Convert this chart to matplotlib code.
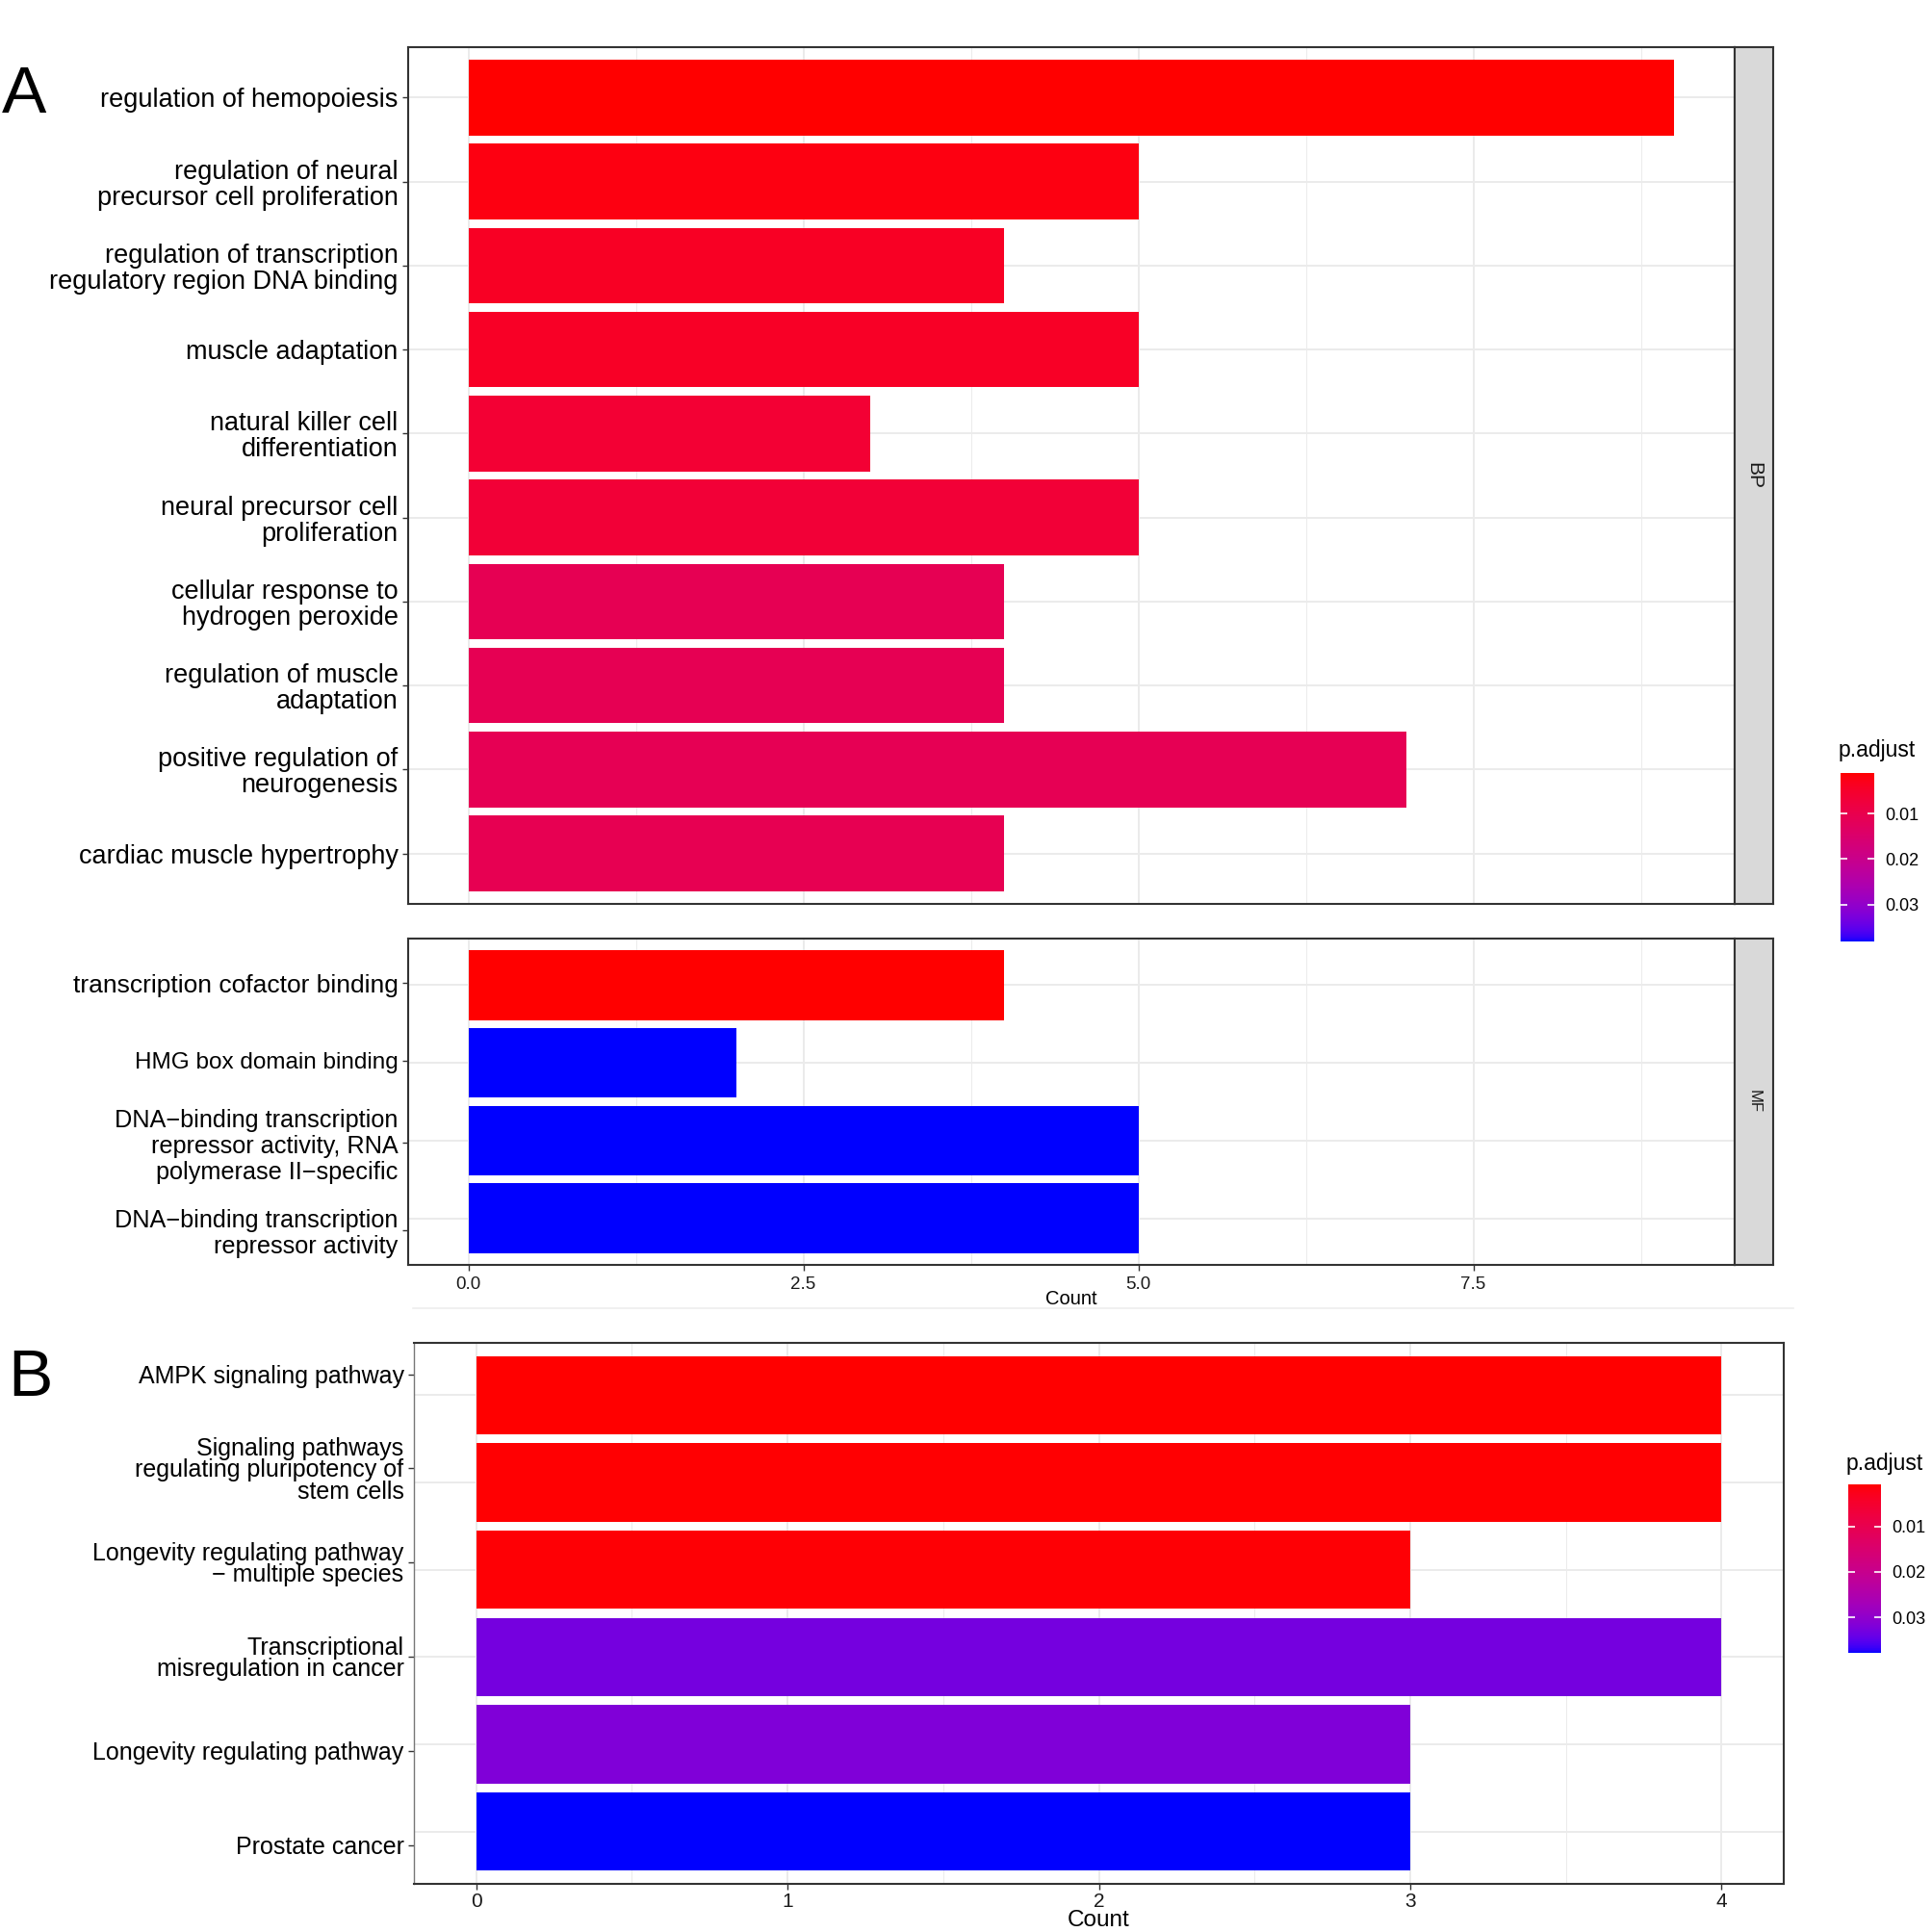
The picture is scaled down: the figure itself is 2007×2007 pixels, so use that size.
import numpy as np
import matplotlib
matplotlib.use("Agg")
import matplotlib.pyplot as plt
from matplotlib.colors import ListedColormap, Normalize
from matplotlib.lines import Line2D
import matplotlib.cm as cm

plt.rcParams['font.family'] = ['Liberation Sans', 'DejaVu Sans']

# ---------------- data ----------------
bp_terms = [
    "regulation of hemopoiesis",
    "regulation of neural\nprecursor cell proliferation",
    "regulation of transcription\nregulatory region DNA binding",
    "muscle adaptation",
    "natural killer cell\ndifferentiation",
    "neural precursor cell\nproliferation",
    "cellular response to\nhydrogen peroxide",
    "regulation of muscle\nadaptation",
    "positive regulation of\nneurogenesis",
    "cardiac muscle hypertrophy",
]
bp_counts = [9, 5, 4, 5, 3, 5, 4, 4, 7, 4]
bp_padj = [0.0012, 0.0022, 0.0040, 0.0043, 0.0062, 0.0066, 0.0110, 0.0110, 0.0112, 0.0108]

mf_terms = [
    "transcription cofactor binding",
    "HMG box domain binding",
    "DNA\u2212binding transcription\nrepressor activity, RNA\npolymerase II\u2212specific",
    "DNA\u2212binding transcription\nrepressor activity",
]
mf_counts = [4, 2, 5, 5]
mf_padj = [0.0011, 0.0381, 0.0380, 0.0380]

kegg_terms = [
    "AMPK signaling pathway",
    "Signaling pathways\nregulating pluripotency of\nstem cells",
    "Longevity regulating pathway\n\u2212 multiple species",
    "Transcriptional\nmisregulation in cancer",
    "Longevity regulating pathway",
    "Prostate cancer",
]
kegg_counts = [4, 4, 3, 4, 3, 3]
kegg_padj = [0.0008, 0.0010, 0.0012, 0.0330, 0.0318, 0.0378]

cbar_ticks = [0.01, 0.02, 0.03]
a_xticks = [0.0, 2.5, 5.0, 7.5]
b_xticks = [0, 1, 2, 3, 4]

# ---------------- Lab gradient (like ggplot2 red -> blue) ----------------
M = np.array([[0.4124564, 0.3575761, 0.1804375],
              [0.2126729, 0.7151522, 0.0721750],
              [0.0193339, 0.1191920, 0.9503041]])
WHITE = np.array([0.95047, 1.0, 1.08883])


def srgb_to_lab(rgb):
    rgb = np.asarray(rgb, float)
    lin = np.where(rgb <= 0.04045, rgb / 12.92, ((rgb + 0.055) / 1.055) ** 2.4)
    xyz = M @ lin / WHITE
    d = 6 / 29
    f = np.where(xyz > d ** 3, np.cbrt(xyz), xyz / (3 * d * d) + 4 / 29)
    return np.array([116 * f[1] - 16, 500 * (f[0] - f[1]), 200 * (f[1] - f[2])])


def lab_to_srgb(lab):
    L, a, b = lab
    fy = (L + 16) / 116
    fx = fy + a / 500
    fz = fy - b / 200
    d = 6 / 29
    f = np.array([fx, fy, fz])
    xyz = np.where(f > d, f ** 3, 3 * d * d * (f - 4 / 29)) * WHITE
    lin = np.linalg.solve(M, xyz)
    lin = np.clip(lin, 0, 1)
    rgb = np.where(lin <= 0.0031308, 12.92 * lin, 1.055 * lin ** (1 / 2.4) - 0.055)
    return np.clip(rgb, 0, 1)


lab_lo = srgb_to_lab([1, 0, 0])
lab_hi = srgb_to_lab([0, 0, 1])
cols = [lab_to_srgb(lab_lo + t * (lab_hi - lab_lo)) for t in np.linspace(0, 1, 256)]
cmap = ListedColormap(cols)

# ---------------- figure ----------------
W, H = 2008, 2007
fig = plt.figure(figsize=(W / 100, H / 100), dpi=100)


def rect(l, t, r, b):
    return [l / W, 1 - b / H, (r - l) / W, (b - t) / H]


BORDER = '#333333'
GRID = '#EBEBEB'


def style_axes(ax, n, xmax, major, minor, ylab_size, xt_size):
    ax.set_xlim(-0.05 * xmax, xmax * 1.05)
    ax.set_ylim(n - 1 + 0.6, -0.6)
    ax.set_xticks(major)
    ax.set_xticks(minor, minor=True)
    ax.set_yticks(range(n))
    ax.grid(True, which='major', color=GRID, lw=1.4)
    ax.grid(True, which='minor', axis='x', color=GRID, lw=0.7)
    ax.set_axisbelow(True)
    for s in ax.spines.values():
        s.set_color(BORDER)
        s.set_linewidth(1.5)
    ax.tick_params(axis='y', length=4.5, width=1.0, color=BORDER, pad=3,
                   labelsize=ylab_size, labelcolor='black')
    ax.tick_params(axis='x', length=4.5, width=1.0, color=BORDER, pad=4,
                   labelsize=xt_size, labelcolor='#1A1A1A')
    ax.tick_params(which='minor', length=0)


def strip(l, t, r, b, text, size):
    sax = fig.add_axes(rect(l, t, r, b))
    sax.set_facecolor('#D9D9D9')
    sax.set_xticks([])
    sax.set_yticks([])
    for s in sax.spines.values():
        s.set_color(BORDER)
        s.set_linewidth(1.5)
    sax.text(0.5, 0.5, text, rotation=270, ha='center', va='center',
             fontsize=size, color='#1A1A1A', transform=sax.transAxes)


def hgrid(ax, n):
    ax.grid(False, axis='y')
    for i in range(n):
        ax.axhline(i, color=GRID, lw=1.4, zorder=0)


# ---- Panel A : BP ----
normA = Normalize(vmin=min(bp_padj + mf_padj), vmax=max(bp_padj + mf_padj))
ax1 = fig.add_axes(rect(424, 49, 1802, 939))
ax1.barh(range(len(bp_terms)), bp_counts, height=0.9,
         color=[cmap(normA(p)) for p in bp_padj])
style_axes(ax1, len(bp_terms), 9, a_xticks, [1.25, 3.75, 6.25, 8.75], 19.5, 13.5)
ax1.set_yticklabels(bp_terms, linespacing=1.05)
ax1.tick_params(axis='x', labelbottom=False, length=0)
strip(1802, 49, 1842, 939, "BP", 15)

# ---- Panel A : MF ----
ax2 = fig.add_axes(rect(424, 975, 1802, 1314))
nm = len(mf_terms)
ax2.barh(range(nm), mf_counts, height=0.9,
         color=[cmap(normA(p)) for p in mf_padj])
style_axes(ax2, nm, 9, a_xticks, [1.25, 3.75, 6.25, 8.75], 18.2, 13.5)
hgrid(ax2, nm)
ax2.set_yticks([-0.03, 0.97, 2.03, 3.15])
ax2.set_yticklabels(mf_terms, linespacing=1.15)
for lab, fs in zip(ax2.get_yticklabels(), [19.0, 17.5, 18.2, 18.2]):
    lab.set_fontsize(fs)
ax2.set_xticklabels([f"{v:.1f}" for v in a_xticks])
ax2.set_xlabel("Count", fontsize=14.5, labelpad=-2)
strip(1802, 975, 1842, 1314, "MF", 12)

# colourbar A
cax1 = fig.add_axes(rect(1912, 803, 1947, 978))
cb1 = fig.colorbar(cm.ScalarMappable(norm=normA, cmap=cmap), cax=cax1, ticks=cbar_ticks)
cax1.invert_yaxis()
cb1.outline.set_visible(False)
cax1.yaxis.set_ticks_position('both')
cax1.tick_params(which='both', color='white', direction='in', length=5, width=1.2,
                 labelsize=13, labelleft=False, labelright=True, pad=8)
cax1.set_yticklabels([f"{t:.2f}" for t in cbar_ticks])
fig.text(1950 / W, 1 - 780 / H, "p.adjust", ha='center', va='center', fontsize=16.5)

# faint separator line
fig.add_artist(Line2D([429 / W, 1863 / W], [1 - 1359 / H, 1 - 1359 / H],
                      color='#EEEEEE', lw=1.2))

# ---- Panel B : KEGG ----
normB = Normalize(vmin=min(kegg_padj), vmax=max(kegg_padj))
ax3 = fig.add_axes(rect(430, 1395, 1853, 1957))
nk = len(kegg_terms)
ax3.barh(range(nk), kegg_counts, height=0.9,
         color=[cmap(normB(p)) for p in kegg_padj])
style_axes(ax3, nk, 4, b_xticks, [0.5, 1.5, 2.5, 3.5], 18.0, 15)
# in the reference the label column is spaced a little wider than the bars
hgrid(ax3, nk)
ax3.set_yticks([-0.24 + 1.079 * i for i in range(nk)])
ax3.set_yticklabels(kegg_terms, linespacing=0.92)
ax3.set_xticklabels([str(v) for v in b_xticks])
ax3.tick_params(axis='x', pad=2)
ax3.set_xlabel("Count", fontsize=17.5, labelpad=-1)
ax3.spines['left'].set_color('#777777')
ax3.spines['left'].set_linewidth(1.0)

cax2 = fig.add_axes(rect(1920, 1542, 1954, 1717))
cb2 = fig.colorbar(cm.ScalarMappable(norm=normB, cmap=cmap), cax=cax2, ticks=cbar_ticks)
cax2.invert_yaxis()
cb2.outline.set_visible(False)
cax2.yaxis.set_ticks_position('both')
cax2.tick_params(which='both', color='white', direction='in', length=5, width=1.2,
                 labelsize=13, labelleft=False, labelright=True, pad=8)
cax2.set_yticklabels([f"{t:.2f}" for t in cbar_ticks])
fig.text(1958 / W, 1 - 1520 / H, "p.adjust", ha='center', va='center', fontsize=16.5)

# panel letters
fig.text(2 / W, 1 - 117 / H, "A", ha='left', va='baseline', fontsize=50)
fig.text(8 / W, 1 - 1450 / H, "B", ha='left', va='baseline', fontsize=50)

fig.savefig("out.png", dpi=100)
